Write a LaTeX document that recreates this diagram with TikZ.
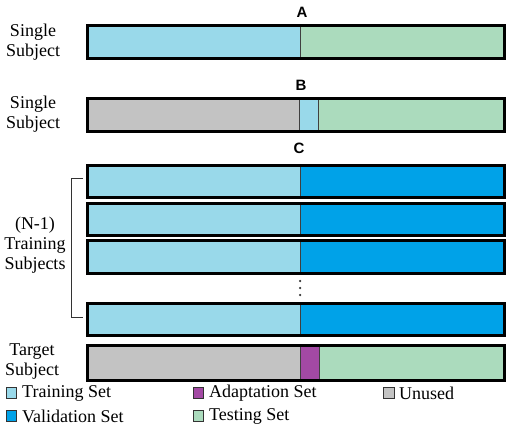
\documentclass[tikz,border=0pt]{standalone}
\usepackage{fontspec}
\setmainfont{Liberation Serif}
\newfontfamily\headfont{Liberation Sans}
\definecolor{trainc}{RGB}{153,217,234}
\definecolor{validc}{RGB}{0,162,232}
\definecolor{testc}{RGB}{171,219,189}
\definecolor{unusedc}{RGB}{195,195,195}
\definecolor{adaptc}{RGB}{163,73,164}

\begin{document}
\begin{tikzpicture}[x=1pt,y=-1pt,
  seg/.style={draw=black!75,line width=0.6pt},
  frame/.style={draw=black,line width=3pt},
  lab/.style={font=\fontsize{18}{20}\selectfont,align=center},
  head/.style={font=\headfont\bfseries\fontsize{15}{17}\selectfont},
  dot/.style={circle,fill=black!80,inner sep=0pt,minimum size=2.5pt},
  key/.style={draw=black!80,line width=1pt,minimum size=10.5pt,inner sep=0pt},
  keytext/.style={font=\fontsize{18}{20}\selectfont,anchor=west,inner sep=0pt}]
\useasboundingbox (0,0) rectangle (510,430);

% A
\node[head] (hA) at (302,12){A};
\fill[trainc,seg] (88,26) rectangle (300,58);
\fill[testc,seg] (300,26) rectangle (504,58);
\draw[frame] (87.5,25.5) rectangle (504.5,58.5);
\node[lab] (sA) at (33,42){Single\\Subject};

% B
\node[head] (hB) at (301,85){B};
\fill[unusedc,seg] (88,99) rectangle (299,131);
\fill[trainc,seg] (299,99) rectangle (318,131);
\fill[testc,seg] (318,99) rectangle (504,131);
\draw[frame] (87.5,98.5) rectangle (504.5,131.5);
\node[lab] (sB) at (33,114){Single\\Subject};

% C
\node[head] (hC) at (299,148){C};
\fill[trainc,seg] (88,165) rectangle (300,197);
\fill[validc,seg] (300,165) rectangle (504,197);
\draw[frame] (87.5,165.5) rectangle (504.5,197.5);
\fill[trainc,seg] (88,203) rectangle (300,235);
\fill[validc,seg] (300,203) rectangle (504,235);
\draw[frame] (87.5,203.5) rectangle (504.5,235.5);
\fill[trainc,seg] (88,241) rectangle (300,273);
\fill[validc,seg] (300,241) rectangle (504,273);
\draw[frame] (87.5,240.5) rectangle (504.5,273.5);
\node[dot] (d1) at (300,281){};
\node[dot] (d2) at (300,288){};
\node[dot] (d3) at (300,295){};
\fill[trainc,seg] (88,304) rectangle (300,335);
\fill[validc,seg] (300,304) rectangle (504,335);
\draw[frame] (87.5,303.5) rectangle (504.5,335.5);
\node[lab] (sC) at (35,245){(N-1)\\Training\\Subjects};
\coordinate (bt) at (83,179);
\coordinate (bb) at (83,317);
\draw[black!80,line width=1pt] (bt) -- ++(-12,0) |- (bb);

% target
\fill[unusedc,seg] (88,346) rectangle (300,380);
\fill[adaptc,seg] (300,346) rectangle (319,380);
\fill[testc,seg] (319,346) rectangle (504,380);
\draw[frame] (87.5,345.5) rectangle (504.5,380.5);
\node[lab] (sT) at (32,362){Target\\Subject};

% legend
\node[key,fill=trainc] (k1) at (11.5,393){};
\node[keytext] at (22,393){Training Set};
\node[key,fill=validc] (k2) at (11.5,416){};
\node[keytext] at (22,416){Validation Set};
\node[key,fill=adaptc] (k3) at (198.5,393){};
\node[keytext] at (209,393){Adaptation Set};
\node[key,fill=testc] (k4) at (198.5,416){};
\node[keytext] at (209,416){Testing Set};
\node[key,fill=unusedc] (k5) at (389,393){};
\node[keytext] at (399,393){Unused};
\end{tikzpicture}
\end{document}
